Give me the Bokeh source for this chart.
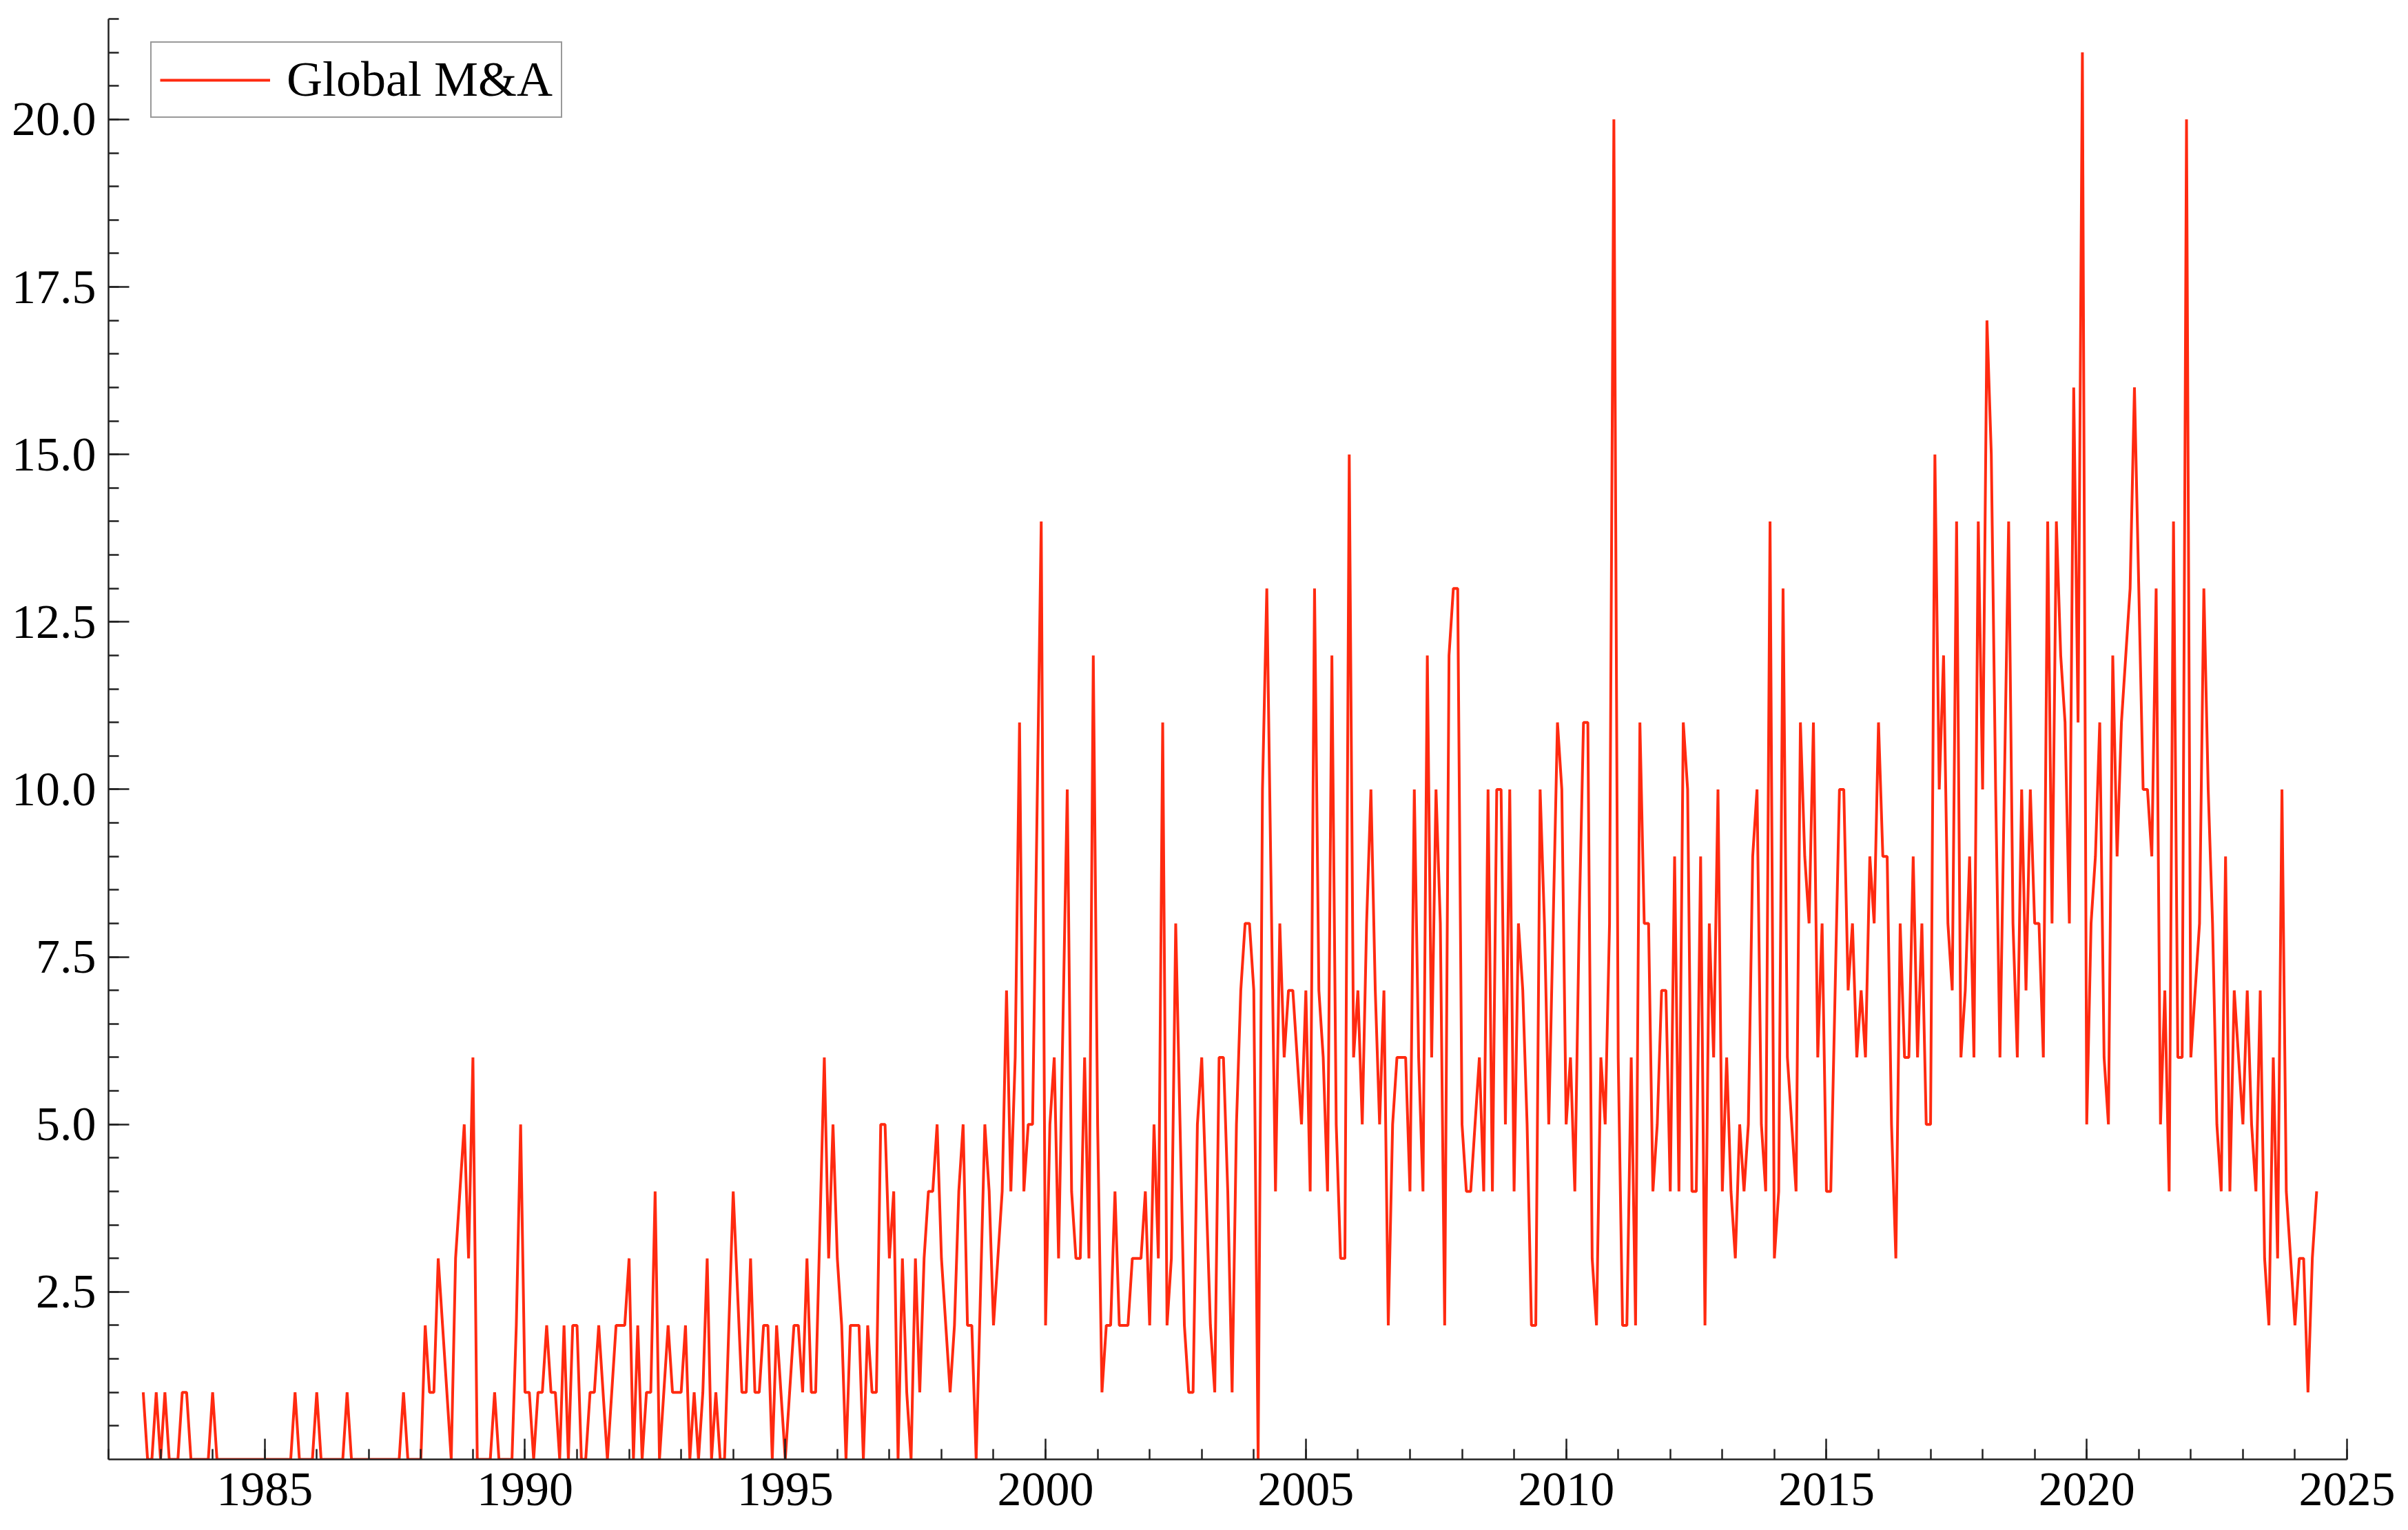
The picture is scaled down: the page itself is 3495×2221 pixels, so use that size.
from bokeh.plotting import figure
from bokeh.models import FixedTicker, PrintfTickFormatter, Legend, LegendItem, Range1d
from bokeh.embed import file_html
from bokeh.resources import INLINE

# ---- data: monthly Global M&A counts, Sept 1982 .. June 2024 ----
START_YEAR = 1982
START_MONTH = 9

v1982 = [1, 0, 0, 1]
v1983 = [0, 1, 0, 0, 0, 1, 1, 0, 0, 0, 0, 0]
v1984 = [1, 0, 0, 0, 0, 0, 0, 0, 0, 0, 0, 0]
v1985 = [0, 0, 0, 0, 0, 0, 0, 1, 0, 0, 0, 0]
v1986 = [1, 0, 0, 0, 0, 0, 0, 1, 0, 0, 0, 0]
v1987 = [0, 0, 0, 0, 0, 0, 0, 0, 1, 0, 0, 0]
v1988 = [0, 2, 1, 1, 3, 2, 1, 0, 3, 4, 5, 3]
v1989 = [6, 0, 0, 0, 0, 1, 0, 0, 0, 0, 2, 5]
v1990 = [1, 1, 0, 1, 1, 2, 1, 1, 0, 2, 0, 2]
v1991 = [2, 0, 0, 1, 1, 2, 1, 0, 1, 2, 2, 2]
v1992 = [3, 0, 2, 0, 1, 1, 4, 0, 1, 2, 1, 1]
v1993 = [1, 2, 0, 1, 0, 1, 3, 0, 1, 0, 0, 2]
v1994 = [4, 2.5, 1, 1, 3, 1, 1, 2, 2, 0, 2, 1]
v1995 = [0, 1, 2, 2, 1, 3, 1, 1, 3.5, 6, 3, 5]
v1996 = [3, 2, 0, 2, 2, 2, 0, 2, 1, 1, 5, 5]
v1997 = [3, 4, 0, 3, 1, 0, 3, 1, 3, 4, 4, 5]
v1998 = [3, 2, 1, 2, 4, 5, 2, 2, 0, 2.5, 5, 4]
v1999 = [2, 3, 4, 7, 4, 6, 11, 4, 5, 5, 9.5, 14]
v2000 = [2, 5, 6, 3, 6.5, 10, 4, 3, 3, 6, 3, 12]
v2001 = [5, 1, 2, 2, 4, 2, 2, 2, 3, 3, 3, 4]
v2002 = [2, 5, 3, 11, 2, 3, 8, 5, 2, 1, 1, 5]
v2003 = [6, 4, 2, 1, 6, 6, 4, 1, 5, 7, 8, 8]
v2004 = [7, 0, 10, 13, 8.5, 4, 8, 6, 7, 7, 6, 5]
v2005 = [7, 4, 13, 7, 6, 4, 12, 5, 3, 3, 15, 6]
v2006 = [7, 5, 8, 10, 7, 5, 7, 2, 5, 6, 6, 6]
v2007 = [4, 10, 6, 4, 12, 6, 10, 8, 2, 12, 13, 13]
v2008 = [5, 4, 4, 5, 6, 4, 10, 4, 10, 10, 5, 10]
v2009 = [4, 8, 7, 5, 2, 2, 10, 8, 5, 8, 11, 10]
v2010 = [5, 6, 4, 8, 11, 11, 3, 2, 6, 5, 8, 20]
v2011 = [6, 2, 2, 6, 2, 11, 8, 8, 4, 5, 7, 7]
v2012 = [4, 9, 4, 11, 10, 4, 4, 9, 2, 8, 6, 10]
v2013 = [4, 6, 4, 3, 5, 4, 5, 9, 10, 5, 4, 14]
v2014 = [3, 4, 13, 6, 5, 4, 11, 9, 8, 11, 6, 8]
v2015 = [4, 4, 7, 10, 10, 7, 8, 6, 7, 6, 9, 8]
v2016 = [11, 9, 9, 5, 3, 8, 6, 6, 9, 6, 8, 5]
v2017 = [5, 15, 10, 12, 8, 7, 14, 6, 7, 9, 6, 14]
v2018 = [10, 17, 15, 10, 6, 10, 14, 8, 6, 10, 7, 10]
v2019 = [8, 8, 6, 14, 8, 14, 12, 11, 8, 16, 11, 21]
v2020 = [5, 8, 9, 11, 6, 5, 12, 9, 11, 12, 13, 16]
v2021 = [13, 10, 10, 9, 13, 5, 7, 4, 14, 6, 6, 20]
v2022 = [6, 7, 8, 13, 10, 8, 5, 4, 9, 4, 7, 6]
v2023 = [5, 7, 5, 4, 7, 3, 2, 6, 3, 10, 4, 3]
v2024 = [2, 3, 3, 1, 3, 4]

series_label = "Global M&A"
y_major_ticks = [2.5, 5.0, 7.5, 10.0, 12.5, 15.0, 17.5, 20.0]
y_minor_ticks = [i * 0.5 for i in range(1, 44)]
x_major_ticks = [1985, 1990, 1995, 2000, 2005, 2010, 2015, 2020, 2025]
x_minor_ticks = list(range(1982, 2026))

values = (v1982 + v1983 + v1984 + v1985 + v1986 + v1987 + v1988 + v1989 + v1990
          + v1991 + v1992 + v1993 + v1994 + v1995 + v1996 + v1997 + v1998 + v1999
          + v2000 + v2001 + v2002 + v2003 + v2004 + v2005 + v2006 + v2007 + v2008
          + v2009 + v2010 + v2011 + v2012 + v2013 + v2014 + v2015 + v2016 + v2017
          + v2018 + v2019 + v2020 + v2021 + v2022 + v2023 + v2024)
dates = [START_YEAR + (START_MONTH - 1 + i) / 12.0 for i in range(len(values))]

FONT = "Liberation Serif"
RED = "#ff2a10"
AX = "#222222"

p = figure(frame_width=3249, frame_height=2091, output_backend="svg",
           toolbar_location=None, x_range=Range1d(1982, 2025),
           y_range=Range1d(0, 21.5))
p.min_border_left = 157
p.min_border_top = 27
p.min_border_right = 75
p.min_border_bottom = 102
p.outline_line_color = None
p.background_fill_color = "white"
p.border_fill_color = "white"
p.xgrid.visible = False
p.ygrid.visible = False
p.title.visible = False

r = p.line(dates, values, line_color=RED, line_width=4)

for ax in (p.xaxis[0], p.yaxis[0]):
    ax.axis_line_color = AX
    ax.axis_line_width = 2.5
    ax.major_tick_line_color = AX
    ax.minor_tick_line_color = AX
    ax.major_tick_line_width = 2.5
    ax.minor_tick_line_width = 2.5
    ax.major_tick_in = 30
    ax.major_tick_out = 0
    ax.minor_tick_in = 15
    ax.minor_tick_out = 0
    ax.major_label_text_font = FONT
    ax.major_label_text_font_size = "70px"
    ax.major_label_text_color = "black"

p.xaxis[0].ticker = FixedTicker(ticks=x_major_ticks, minor_ticks=x_minor_ticks)
p.xaxis[0].formatter = PrintfTickFormatter(format="%d")
p.xaxis[0].major_label_standoff = 20
p.yaxis[0].ticker = FixedTicker(ticks=y_major_ticks, minor_ticks=y_minor_ticks)
p.yaxis[0].formatter = PrintfTickFormatter(format="%.1f")
p.yaxis[0].major_label_standoff = 18

legend = Legend(items=[LegendItem(label=series_label, renderers=[r])],
                location=(61, 1947))
legend.label_text_font = FONT
legend.label_text_font_size = "72px"
legend.label_text_color = "black"
legend.glyph_width = 160
legend.glyph_height = 60
legend.label_standoff = 24
legend.padding = 12
legend.border_line_color = "#333333"
legend.border_line_width = 2.5
legend.background_fill_color = "white"
legend.background_fill_alpha = 1.0
p.add_layout(legend, "center")

open("out.html", "w").write(file_html(p, INLINE))
